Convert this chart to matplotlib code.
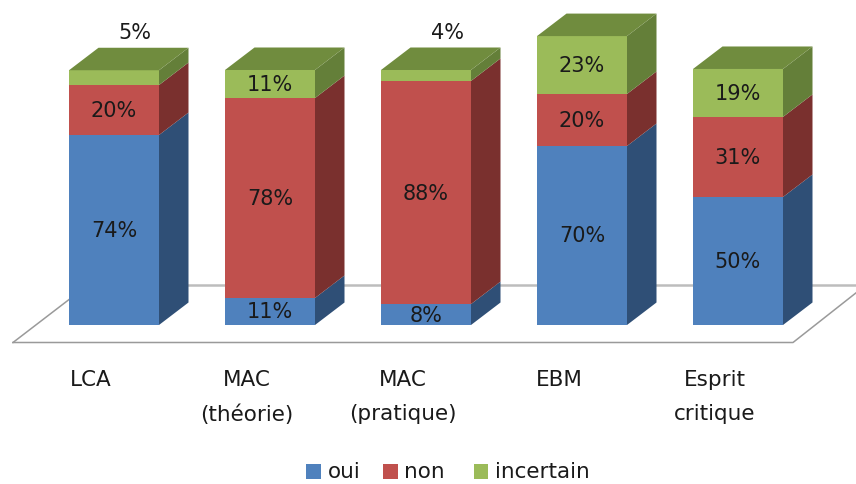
import matplotlib
matplotlib.use("Agg")
import matplotlib.pyplot as plt
from matplotlib.patches import Polygon, Rectangle

categories = ["LCA", "MAC\n(théorie)", "MAC\n(pratique)", "EBM", "Esprit\ncritique"]
# heights as measured on the bars, the printed labels are rounded
oui = [74.5, 10.6, 8.2, 70.2, 50.2]
non = [19.6, 78.4, 87.5, 20.4, 31.4]
incertain = [5.8, 11.0, 4.3, 22.7, 18.8]
oui_labels = ["74%", "11%", "8%", "70%", "50%"]
non_labels = ["20%", "78%", "88%", "20%", "31%"]
incertain_labels = ["5%", "11%", "4%", "23%", "19%"]

# front, top and side shades for each series
series = [
    ("oui", oui, oui_labels, "#4f81bd", "#2f4f76"),
    ("non", non, non_labels, "#c0504d", "#7a302e"),
    ("incertain", incertain, incertain_labels, "#9bbb59", "#647f39"),
]
TOP_COLOR = "#708c3e"
TEXT = "#1a1a1a"
FS = 15
FS_AXIS = 15.5

W, H = 856, 485
SLOT = 156.0      # pixels between bars
BASE_Y = 326      # pixel row of the bar bottoms
PX_PER_PCT = 2.55
BAR_W = 90 / SLOT
DX = 29.5 / SLOT    # depth of the fake 3d
DY = 22.5 / PX_PER_PCT

fig = plt.figure(figsize=(W / 100, H / 100), dpi=100)
ax = fig.add_axes([0, 0, 1, 1])
ax.set_xlim(-114 / SLOT, (W - 114) / SLOT)
ax.set_ylim(-(H - BASE_Y) / PX_PER_PCT, BASE_Y / PX_PER_PCT)
ax.axis("off")

# floor of the chart, back edge is heavier than the front one
front_y = -17.5 / PX_PER_PCT
back_y = 40 / PX_PER_PCT
ax.plot([-101 / SLOT, 679 / SLOT, 752 / SLOT], [front_y, front_y, back_y],
        color="#9a9a9a", lw=1.1, zorder=1, clip_on=True)
ax.plot([-101 / SLOT, -26 / SLOT], [front_y, back_y], color="#9a9a9a", lw=1.1, zorder=1)
ax.plot([-26 / SLOT, 752 / SLOT], [back_y, back_y], color="#bdbdbd", lw=1.8, zorder=1)

for i in range(len(categories)):
    left = i - BAR_W / 2
    right = i + BAR_W / 2
    bottom = 0
    for name, values, labels, front, side in series:
        v = values[i]
        ax.add_patch(Rectangle((left, bottom), BAR_W, v, fc=front, ec="none", zorder=3))
        ax.add_patch(Polygon([(right, bottom), (right + DX, bottom + DY),
                              (right + DX, bottom + v + DY), (right, bottom + v)],
                             closed=True, fc=side, ec="none", zorder=3))
        if v > 6:
            ax.text(i, bottom + v / 2, labels[i], ha="center", va="center",
                    fontsize=FS, color=TEXT, zorder=4)
        else:
            ax.text(i + 0.135, bottom + v + 15, labels[i], ha="center", va="center",
                    fontsize=FS, color=TEXT, zorder=4)
        bottom += v
    ax.add_patch(Polygon([(left, bottom), (right, bottom),
                          (right + DX, bottom + DY), (left + DX, bottom + DY)],
                         closed=True, fc=TOP_COLOR, ec="none", zorder=3))
    # axis labels sit left of the bar centre
    ax.text(i - 23 / SLOT, -(370 - BASE_Y) / PX_PER_PCT, categories[i],
            ha="center", va="top", fontsize=FS_AXIS, color=TEXT, linespacing=1.85)

# legend
legend_y = -(472.5 - BASE_Y) / PX_PER_PCT
for x_px, (name, values, labels, front, side) in zip([306, 383, 474], series):
    x = (x_px - 114) / SLOT
    ax.add_patch(Rectangle((x, legend_y - 7.5 / PX_PER_PCT), 14.5 / SLOT, 15 / PX_PER_PCT,
                           fc=front, ec="none"))
    ax.text(x + 21.5 / SLOT, legend_y, name, ha="left", va="center",
            fontsize=FS_AXIS, color=TEXT)

fig.savefig("out.png", dpi=100)
